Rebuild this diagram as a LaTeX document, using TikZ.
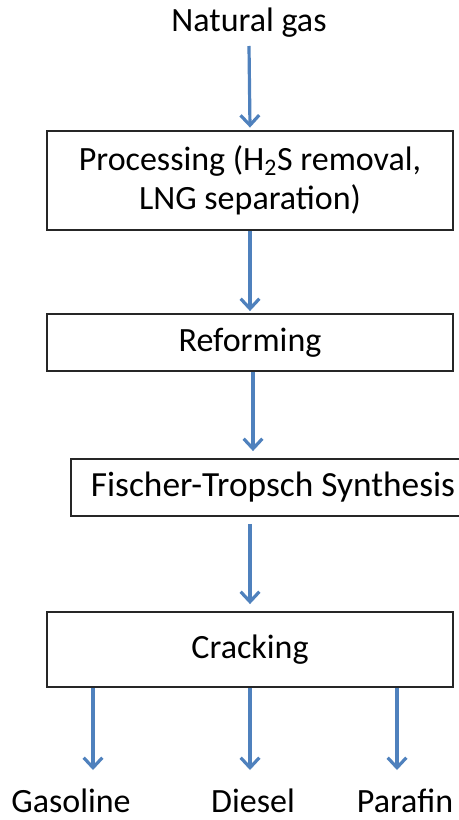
\documentclass[tikz,border=0pt]{standalone}
\usepackage{fontspec}
\setmainfont{Carlito}
\usetikzlibrary{arrows.meta}
\definecolor{flowblue}{RGB}{79,129,189}
\begin{document}
\begin{tikzpicture}[x=0.75pt,y=-0.75pt,
  font=\fontsize{25.5}{27}\selectfont,
  stepbox/.style={draw=black!85, line width=1.4pt, fill=white, inner sep=0pt,
    minimum width=406*0.75pt, align=center},
  flow/.style={draw=flowblue, line width=2.4pt,
    -{Straight Barb[length=7.5pt,width=14pt,line width=2.4pt]}},
  label/.style={anchor=base, inner sep=0pt}]
\useasboundingbox (0,0) rectangle (459,820);

% process chain
\node[label] (ng) at (249,32) {Natural gas};
\node[stepbox, minimum height=99*0.75pt] (proc) at (250,180.5)
  {Processing (H\textsubscript{2}S removal,\\[2pt]LNG separation)};
\node[stepbox, minimum height=57*0.75pt] (ref) at (250,342.5) {Reforming};
\node[stepbox, minimum width=404*0.75pt, minimum height=57*0.75pt] (ft) at (273,487.5)
  {\fontsize{26.5}{28}\selectfont Fischer-Tropsch Synthesis};
\node[stepbox, minimum height=75*0.75pt] (crack) at (250,649.5) {Cracking};

% products
\node[label] (gas) at (71,812) {Gasoline};
\node[label] (dsl) at (253,812) {Diesel};
\node[label] (par) at (405,812) {Parafin};

% column of the reforming arrow, and free ends of the product arrows
\coordinate (a3) at (253,0);
\coordinate (e1) at (93,770);
\coordinate (e2) at (250,770);
\coordinate (e3) at (397,770);

% connectors
\draw[flow] ([yshift=-14*0.75pt]ng.base) -- ([yshift=2.5*0.75pt]proc.north);
\draw[flow] (proc.south) -- ([yshift=2*0.75pt]ref.north);
\draw[flow] (ref.south -| a3) -- ([yshift=7*0.75pt]ft.north -| a3);
\draw[flow] ([yshift=-7*0.75pt]ft.south -| proc.south) -- ([yshift=7*0.75pt]crack.north);
\draw[flow] (crack.south -| e1) -- (e1);
\draw[flow] (crack.south -| e2) -- (e2);
\draw[flow] (crack.south -| e3) -- (e3);
\end{tikzpicture}
\end{document}
